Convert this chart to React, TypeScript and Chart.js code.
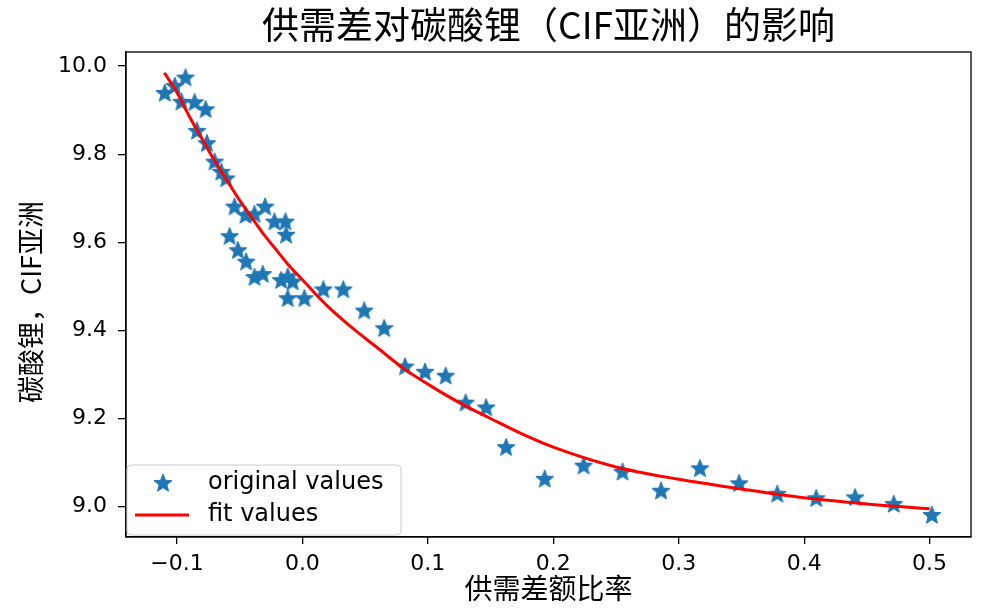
import React, { useEffect, useRef } from "react";
import { Chart, registerables } from "chart.js";

Chart.register(...registerables);

// ---- text ----
const titleText = "供需差对碳酸锂（CIF亚洲）的影响";
const xTitle = "供需差额比率";
const yTitle = "碳酸锂，CIF亚洲";
const labelOriginal = "original values";
const labelFit = "fit values";

// ---- ticks ----
const xTicks = [-0.1, 0.0, 0.1, 0.2, 0.3, 0.4, 0.5];
const yTicks = [9.0, 9.2, 9.4, 9.6, 9.8, 10.0];
const xMin = -0.1406;
const xMax = 0.533;
const yMin = 8.931;
const yMax = 10.032;

// ---- original values (supply-demand gap ratio, price) ----
const origX = [
  -0.1097, -0.1017, -0.0932, -0.0964, -0.0859, -0.0771, -0.084, -0.0761, -0.07, -0.0646,
  -0.0607, -0.0541, -0.0453, -0.0382, -0.0297, -0.0223, -0.0135, -0.058, -0.013, -0.0514,
  -0.0448, -0.0382, -0.0316, -0.0169, -0.0117, -0.0077, -0.0117, 0.0016, 0.0167, 0.0326,
  0.0493, 0.0652, 0.0819, 0.0978, 0.1142, 0.1301, 0.1465, 0.1624, 0.1932, 0.2242,
  0.2552, 0.2859, 0.3169, 0.3482, 0.3786, 0.4096, 0.4406, 0.4714, 0.5018,
];
const origY = [
  9.939, 9.955, 9.974, 9.919, 9.918, 9.902, 9.853, 9.825, 9.783, 9.76,
  9.745, 9.681, 9.662, 9.664, 9.681, 9.647, 9.647, 9.614, 9.617, 9.582,
  9.556, 9.521, 9.528, 9.514, 9.522, 9.511, 9.473, 9.473, 9.493, 9.493,
  9.445, 9.405, 9.318, 9.306, 9.297, 9.236, 9.225, 9.135, 9.063, 9.093,
  9.079, 9.036, 9.087, 9.053, 9.029, 9.019, 9.021, 9.006, 8.981,
];

// ---- fit values ----
const fitX = [
  -0.11, -0.1, -0.09, -0.08, -0.07, -0.06, -0.05, -0.04, -0.03, -0.02, -0.01, 0.0,
  0.02, 0.04, 0.06, 0.08, 0.1, 0.125, 0.15, 0.175, 0.2, 0.25, 0.3, 0.35, 0.4, 0.45, 0.5,
];
const fitY = [
  9.985, 9.94, 9.885, 9.835, 9.785, 9.74, 9.695, 9.655, 9.615, 9.58, 9.545, 9.515,
  9.455, 9.405, 9.36, 9.315, 9.278, 9.236, 9.2, 9.165, 9.135, 9.09, 9.062, 9.04, 9.02, 9.006, 8.995,
];

const BLUE = "#1f77b4";
const CJK = "'Noto Sans CJK SC', 'Noto Sans', sans-serif";
const SANS = "'DejaVu Sans', sans-serif";

function makeStar(): HTMLCanvasElement {
  const c = document.createElement("canvas");
  c.width = 22;
  c.height = 22;
  const g = c.getContext("2d")!;
  const cx = 11, cy = 11.6, R = 9.4, r = 4.1;
  g.beginPath();
  for (let i = 0; i < 10; i++) {
    const ang = -Math.PI / 2 + (i * Math.PI) / 5;
    const rad = i % 2 === 0 ? R : r;
    const px = cx + rad * Math.cos(ang);
    const py = cy + rad * Math.sin(ang);
    if (i === 0) g.moveTo(px, py);
    else g.lineTo(px, py);
  }
  g.closePath();
  g.fillStyle = BLUE;
  g.fill();
  g.lineJoin = "round";
  g.lineWidth = 1;
  g.strokeStyle = BLUE;
  g.stroke();
  return c;
}

const fmt = (v: number) => {
  const s = Math.abs(v).toFixed(1);
  return v < -1e-9 ? "\u2212" + s : s;
};

export default function App() {
  const ref = useRef<HTMLCanvasElement | null>(null);

  useEffect(() => {
    if (!ref.current) return;
    const star = makeStar();

    const decor = {
      id: "decor",
      afterDraw(chart: any) {
        const { ctx, chartArea: a } = chart;
        ctx.save();
        // axes frame
        ctx.strokeStyle = "#000";
        ctx.lineWidth = 1.3;
        ctx.strokeRect(a.left, a.top, a.right - a.left, a.bottom - a.top);

        // legend
        const lx = a.left + 1;
        const ly = a.bottom - 72;
        const lw = 274;
        const lh = 70;
        ctx.beginPath();
        (ctx as any).roundRect(lx, ly, lw, lh, 4);
        ctx.fillStyle = "rgba(255,255,255,0.8)";
        ctx.fill();
        ctx.strokeStyle = "#cccccc";
        ctx.lineWidth = 1;
        ctx.stroke();

        const row1 = ly + 18;
        const row2 = ly + 50;
        ctx.drawImage(star, lx + 36 - star.width / 2, row1 - star.height / 2);
        ctx.beginPath();
        ctx.moveTo(lx + 8, row2);
        ctx.lineTo(lx + 62, row2);
        ctx.strokeStyle = "red";
        ctx.lineWidth = 3;
        ctx.stroke();

        ctx.fillStyle = "#000";
        ctx.font = `24px ${SANS}`;
        ctx.textAlign = "left";
        ctx.textBaseline = "middle";
        ctx.fillText(chart.data.datasets[1].label, lx + 81, row1);
        ctx.fillText(chart.data.datasets[0].label, lx + 81, row2);

        // axis titles
        ctx.font = `28px ${CJK}`;
        ctx.textAlign = "center";
        ctx.textBaseline = "middle";
        ctx.fillText(xTitle, (a.left + a.right) / 2, 588);

        ctx.save();
        ctx.translate(31, 302);
        ctx.rotate(-Math.PI / 2);
        ctx.font = `27px ${CJK}`;
        ctx.fillText(yTitle, 0, 0);
        ctx.restore();

        ctx.restore();
      },
    };

    const chart = new Chart(ref.current, {
      type: "scatter",
      data: {
        datasets: [
          {
            label: labelFit,
            data: fitX.map((x, i) => ({ x, y: fitY[i] })),
            showLine: true,
            borderColor: "red",
            backgroundColor: "red",
            borderWidth: 3,
            pointRadius: 0,
            cubicInterpolationMode: "monotone",
            order: 0,
          } as any,
          {
            label: labelOriginal,
            data: origX.map((x, i) => ({ x, y: origY[i] })),
            showLine: false,
            pointStyle: star as any,
            pointRadius: 9,
            backgroundColor: BLUE,
            borderColor: BLUE,
            order: 1,
          } as any,
        ],
      },
      options: {
        animation: false,
        responsive: false,
        devicePixelRatio: 1,
        layout: { padding: { left: 0, right: 7, top: 0, bottom: 0 } },
        plugins: {
          legend: { display: false },
          tooltip: { enabled: false },
          title: {
            display: true,
            text: titleText,
            fullSize: false,
            color: "#000",
            font: { family: CJK, size: 37, weight: "normal", lineHeight: 1.2 },
            padding: { top: 3, bottom: 4.6 },
          },
        },
        scales: {
          x: {
            type: "linear",
            min: xMin,
            max: xMax,
            afterFit: (s: any) => {
              s.height = 71;
            },
            afterBuildTicks: (s: any) => {
              s.ticks = xTicks.map((v) => ({ value: v }));
            },
            grid: {
              display: true,
              drawOnChartArea: false,
              drawTicks: true,
              tickLength: 7,
              color: "#000",
              lineWidth: 1.3,
            },
            border: { display: true, color: "#000", width: 1.3 },
            ticks: {
              autoSkip: false,
              maxRotation: 0,
              padding: 7,
              color: "#000",
              font: { family: SANS, size: 22 },
              callback: (v: any) => fmt(Number(v)),
            },
          },
          y: {
            type: "linear",
            min: yMin,
            max: yMax,
            afterFit: (s: any) => {
              s.width = 126;
            },
            afterBuildTicks: (s: any) => {
              s.ticks = yTicks.map((v) => ({ value: v }));
            },
            grid: {
              display: true,
              drawOnChartArea: false,
              drawTicks: true,
              tickLength: 8,
              color: "#000",
              lineWidth: 1.3,
            },
            border: { display: true, color: "#000", width: 1.3 },
            ticks: {
              autoSkip: false,
              padding: 11,
              color: "#000",
              font: { family: SANS, size: 22 },
              callback: (v: any) => fmt(Number(v)),
            },
          },
        },
      },
      plugins: [decor],
    });

    return () => chart.destroy();
  }, []);

  return (
    <div style={{ position: "fixed", left: 0, top: 0, width: 981, height: 608, background: "#fff" }}>
      <canvas ref={ref} width={981} height={608} style={{ display: "block" }} />
    </div>
  );
}
